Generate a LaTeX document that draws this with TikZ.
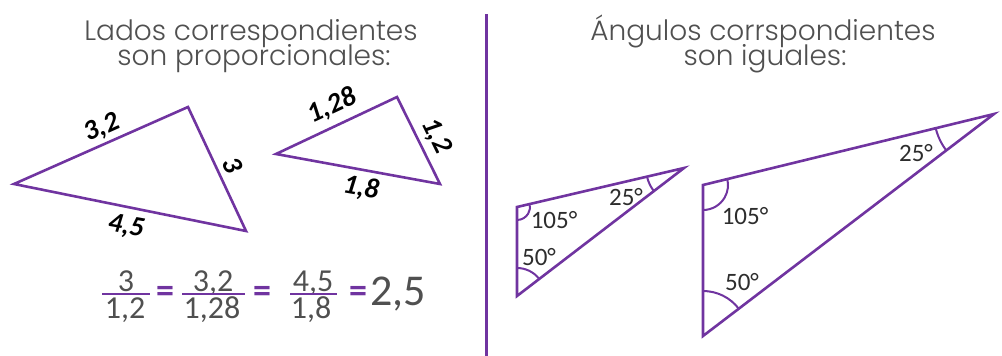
\documentclass[tikz,border=0pt]{standalone}
\usepackage{fontspec}
\setmainfont{Carlito}
\newfontfamily\titlefont{Poppins Light}
\usetikzlibrary{angles}
\definecolor{vio}{RGB}{112,52,160}
\definecolor{tgray}{RGB}{80,80,80}
\definecolor{dgray}{RGB}{45,45,45}
\begin{document}
\begin{tikzpicture}[x=1pt,y=1pt,
  tri/.style={draw=vio, line width=2.6pt, line join=miter},
  ttl/.style={font=\titlefont\fontsize{28}{28}\selectfont, text=tgray, inner sep=0, anchor=base},
  side/.style={font=\bfseries\itshape\fontsize{28}{28}\selectfont, text=black, inner sep=0},
  num/.style={font=\fontsize{32}{32}\selectfont, text=tgray, inner sep=0, anchor=base},
  eqs/.style={font=\bfseries\fontsize{36}{36}\selectfont, text=vio, inner sep=0},
  fbar/.style={draw=vio, line width=2.8pt},
  ang/.style={font=\fontsize{25}{25}\selectfont, text=dgray, inner sep=0},
  arcA/.style={draw=vio, line width=2pt},
]
\useasboundingbox (0,0) rectangle (1002,-356);

% titles
\node[ttl] (t1) at (251,-40) {Lados correspondientes};
\node[ttl] (t2) at (254,-65) {son proporcionales:};
\node[ttl] (t3) at (763,-40) {Ángulos corrspondientes};
\node[ttl] (t4) at (765,-65) {son iguales:};

% divider
\coordinate (d1) at (486,-14);
\coordinate (d2) at (486,-356);
\draw[draw=vio, line width=3pt] (d1) -- (d2);

% left big triangle
\coordinate (A1) at (14,-184);
\coordinate (A2) at (188,-107);
\coordinate (A3) at (246,-231);
\draw[tri] (A1) -- (A2) -- (A3) -- cycle;
\node[side, rotate=24] (l32) at (102,-128) {3,2};
\node[side, rotate=-65] (l3) at (233,-165) {3};
\node[side, rotate=-10] (l45) at (126,-227) {4,5};

% left small triangle
\coordinate (B1) at (276,-154);
\coordinate (B2) at (397,-97);
\coordinate (B3) at (440,-184);
\draw[tri] (B1) -- (B2) -- (B3) -- cycle;
\node[side, rotate=25] (l128) at (332,-106) {1,28};
\node[side, rotate=-64] (l12) at (436,-136) {1,2};
\node[side, rotate=-10] (l18) at (361,-188) {1,8};

% proportion
\node[num] (n1) at (126,-291) {3};
\node[num] (d1n) at (125,-318) {1,2};
\draw[fbar] (102,-294) coordinate (f1a) -- (150,-294) coordinate (f1b);
\node[eqs] (e1) at (165,-294) {=};
\node[num] (n2) at (213,-291) {3,2};
\node[num] (d2n) at (212,-318) {1,28};
\draw[fbar] (182,-294) coordinate (f2a) -- (245,-294) coordinate (f2b);
\node[eqs] (e2) at (262,-294) {=};
\node[num] (n3) at (313,-291) {4,5};
\node[num] (d3n) at (311,-318) {1,8};
\draw[fbar] (290,-294) coordinate (f3a) -- (337,-294) coordinate (f3b);
\node[eqs] (e3) at (358,-294) {=};
\node[num, anchor=base west, font=\fontsize{44}{44}\selectfont] (r) at (370,-305) {2,5};

% right small triangle
\coordinate (P1) at (517,-207);
\coordinate (P2) at (517,-296);
\coordinate (P3) at (684,-168);
\draw[tri] (P1) -- (P2) -- (P3) -- cycle;
\pic[arcA, angle radius=13pt] {angle=P2--P1--P3};
\pic[arcA, angle radius=28pt] {angle=P3--P2--P1};
\pic[arcA, angle radius=38pt] {angle=P1--P3--P2};
\node[ang] (a1) at (554,-220) {105°};
\node[ang] (a2) at (539,-257) {50°};
\node[ang] (a3) at (626,-197) {25°};

% right big triangle
\coordinate (Q1) at (703,-185);
\coordinate (Q2) at (703,-336);
\coordinate (Q3) at (994,-114);
\draw[tri] (Q1) -- (Q2) -- (Q3) -- cycle;
\pic[arcA, angle radius=25pt] {angle=Q2--Q1--Q3};
\pic[arcA, angle radius=45pt] {angle=Q3--Q2--Q1};
\pic[arcA, angle radius=60pt] {angle=Q1--Q3--Q2};
\node[ang] (b1) at (745,-216) {105°};
\node[ang] (b2) at (742,-282) {50°};
\node[ang] (b3) at (916,-153) {25°};
\end{tikzpicture}
\end{document}
